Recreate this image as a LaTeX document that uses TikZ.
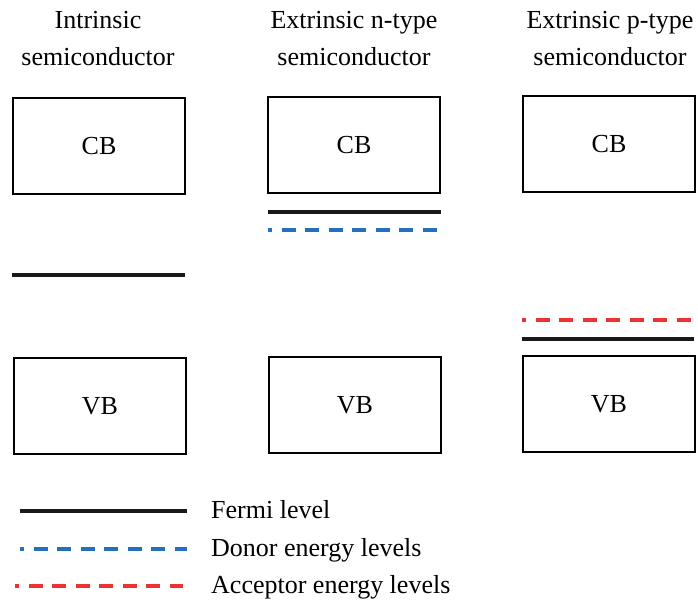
\documentclass[tikz,border=0pt]{standalone}
\usepackage{fontspec}
\setmainfont{Liberation Serif}
\definecolor{donorblue}{RGB}{36,112,190}
\definecolor{accred}{RGB}{238,50,50}
\tikzset{
  x=1pt,y=-1pt,
  band/.style={draw,line width=1.4pt,minimum width=172pt,minimum height=96pt,inner sep=0pt,font=\fontsize{26}{30}\selectfont},
  fermi/.style={line width=3.3pt,black!90},
  donor/.style={line width=3.3pt,donorblue,dash pattern=on 14pt off 9.5pt,dash phase=10pt},
  acceptor/.style={line width=3.3pt,accred,dash pattern=on 14pt off 9.5pt,dash phase=10pt},
  title/.style={align=center,font=\fontsize{26}{37}\selectfont,inner sep=0pt},
  legtext/.style={anchor=base west,font=\fontsize{26}{30}\selectfont,inner sep=0pt}
}
\begin{document}
\begin{tikzpicture}
\useasboundingbox (0,0) rectangle (698,601);
% titles
\node[title,anchor=base] (t1) at (98,66) {Intrinsic\\semiconductor};
\node[title,anchor=base] (t2) at (354,66) {Extrinsic n-type\\semiconductor};
\node[title,anchor=base] (t3) at (610,66) {Extrinsic p-type\\semiconductor};
% boxes
\node[band] (cb1) at (99,146) {CB};
\node[band] (vb1) at (100,406) {VB};
\node[band] (cb2) at (354,145) {CB};
\node[band] (vb2) at (355,405) {VB};
\node[band] (cb3) at (609,144) {CB};
\node[band] (vb3) at (609,404) {VB};
% levels
\coordinate (f1a) at (12,275); \coordinate (f1b) at (185,275);
\draw[fermi] (f1a) -- (f1b);
\coordinate (f2a) at (268,212); \coordinate (f2b) at (441,212);
\draw[fermi] (f2a) -- (f2b);
\coordinate (d2a) at (268,230); \coordinate (d2b) at (441,230);
\draw[donor] (d2a) -- (d2b);
\coordinate (a3a) at (522,320); \coordinate (a3b) at (694,320);
\draw[acceptor] (a3a) -- (a3b);
\coordinate (f3a) at (522,339); \coordinate (f3b) at (694,339);
\draw[fermi] (f3a) -- (f3b);
% legend
\coordinate (lf1) at (20,511); \coordinate (lf2) at (187,511);
\draw[fermi] (lf1) -- (lf2);
\coordinate (ld1) at (20,549); \coordinate (ld2) at (187,549);
\draw[donor] (ld1) -- (ld2);
\coordinate (la1) at (15,586); \coordinate (la2) at (183,586);
\draw[acceptor] (la1) -- (la2);
\node[legtext] (lt1) at (211,518) {Fermi level};
\node[legtext] (lt2) at (211,556) {Donor energy levels};
\node[legtext] (lt3) at (211,593) {Acceptor energy levels};
\end{tikzpicture}
\end{document}
